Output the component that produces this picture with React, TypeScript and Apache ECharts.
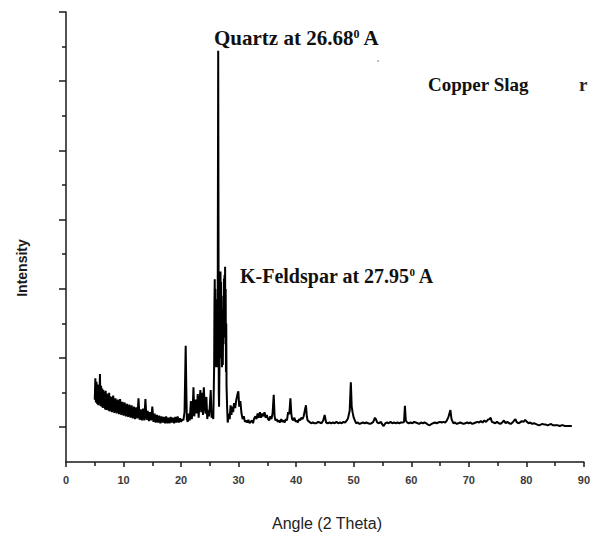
import React, { useEffect, useRef } from "react";
import * as echarts from "echarts";

// 2-theta angle (deg) and intensity (arbitrary units)
const lowAngleScan: [number, number][] = [
  [5.0, 90], [5.1, 121], [5.2, 86], [5.3, 116], [5.4, 84], [5.5, 112], [5.6, 82], [5.7, 109],
  [5.8, 84], [5.9, 127], [6.0, 81], [6.1, 110], [6.2, 80], [6.3, 106], [6.4, 78], [6.5, 104],
  [6.6, 79], [6.7, 101], [6.8, 76], [6.9, 103], [7.0, 75], [7.1, 99], [7.2, 76], [7.3, 97],
  [7.4, 74], [7.5, 100], [7.6, 73], [7.7, 95], [7.8, 74], [7.9, 94], [8.0, 72], [8.2, 96],
  [8.4, 71], [8.6, 92], [8.8, 70], [9.0, 90], [9.2, 69], [9.4, 91], [9.6, 68], [9.8, 87],
  [10.0, 67], [10.2, 86], [10.4, 66], [10.6, 84], [10.8, 65], [11.0, 83], [11.2, 64], [11.4, 82],
  [11.6, 63], [11.8, 80], [12.0, 62], [12.2, 79], [12.4, 63], [12.6, 92], [12.8, 61], [13.0, 76],
  [13.2, 60], [13.4, 77], [13.6, 60], [13.8, 91], [14.0, 61], [14.2, 74], [14.4, 59], [14.6, 72],
  [14.8, 60], [15.0, 80], [15.2, 58], [15.4, 70], [15.6, 57], [15.8, 68], [16.0, 57], [16.2, 67],
  [16.4, 56], [16.6, 66], [16.8, 57], [17.0, 65], [17.2, 56], [17.4, 66], [17.6, 56], [17.8, 64],
  [18.0, 56], [18.2, 65], [18.4, 57], [18.6, 64], [18.8, 56], [19.0, 65], [19.2, 57], [19.4, 66],
  [19.6, 57], [19.8, 63], [20.0, 58], [20.2, 62], [20.4, 60],
];

const peakCluster: [number, number][] = [
  [20.6, 72], [20.8, 168], [20.9, 110], [21.0, 62], [21.15, 58], [21.3, 70], [21.5, 60],
  [21.7, 88], [21.85, 62], [22.0, 72], [22.15, 108], [22.3, 66], [22.5, 90], [22.7, 70],
  [22.9, 98], [23.05, 64], [23.2, 86], [23.35, 104], [23.5, 72], [23.65, 100], [23.8, 68],
  [23.95, 108], [24.1, 80], [24.25, 70], [24.4, 94], [24.55, 62], [24.7, 75], [24.85, 66],
  [25.0, 82], [25.15, 104], [25.3, 64], [25.45, 70], [25.6, 62], [25.75, 140], [25.8, 230],
  [25.85, 264], [25.9, 170], [25.95, 250], [26.0, 150], [26.05, 235], [26.1, 137], [26.15, 190],
  [26.25, 137], [26.35, 160], [26.45, 594], [26.55, 100], [26.6, 80], [26.7, 160], [26.75, 250],
  [26.8, 180], [26.85, 275], [26.9, 200], [26.95, 260], [27.0, 150], [27.05, 220], [27.1, 137],
  [27.15, 190], [27.25, 140], [27.35, 240], [27.4, 180], [27.45, 265], [27.5, 200], [27.55, 270],
  [27.6, 190], [27.65, 282], [27.7, 170], [27.75, 250], [27.8, 130], [27.85, 200], [27.9, 110],
  [28.0, 80], [28.1, 57],
];

const midAngleScan: [number, number][] = [
  [28.3, 70], [28.45, 62], [28.6, 82], [28.75, 68], [28.9, 80], [29.05, 72], [29.2, 85],
  [29.4, 78], [29.6, 90], [29.8, 98], [29.95, 102], [30.1, 80], [30.3, 88], [30.5, 70],
  [30.7, 62], [30.9, 66], [31.1, 58], [31.3, 60], [31.5, 57], [31.7, 61], [31.9, 56],
  [32.1, 58], [32.3, 60], [32.5, 56], [32.7, 63], [32.9, 66], [33.1, 62], [33.3, 70],
  [33.5, 64], [33.7, 72], [33.9, 64], [34.1, 70], [34.3, 66], [34.5, 72], [34.7, 64],
  [34.9, 68], [35.1, 62], [35.3, 60], [35.5, 66], [35.7, 62], [35.9, 70], [36.1, 97],
  [36.25, 66], [36.4, 60], [36.6, 62], [36.8, 58], [37.0, 60], [37.2, 57], [37.4, 62],
  [37.6, 58], [37.8, 60], [38.0, 57], [38.2, 62], [38.4, 60], [38.6, 72], [38.8, 69],
  [39.0, 92], [39.15, 70], [39.3, 62], [39.5, 60], [39.7, 64], [39.9, 58], [40.1, 60],
  [40.3, 57], [40.5, 62], [40.7, 60], [40.9, 64], [41.1, 62], [41.3, 66], [41.5, 74],
  [41.7, 82], [41.85, 66], [42.0, 60], [42.3, 58], [42.6, 56], [42.9, 57], [43.2, 56],
  [43.5, 56], [43.8, 58], [44.1, 57], [44.4, 56], [44.7, 60], [44.95, 68], [45.2, 57],
  [45.5, 56], [45.8, 57], [46.1, 56], [46.4, 57], [46.7, 56], [47.0, 58], [47.3, 56],
  [47.6, 57], [47.9, 56], [48.2, 58], [48.5, 57], [48.8, 60], [49.0, 63], [49.3, 74],
  [49.5, 115], [49.65, 80], [49.8, 72], [50.0, 64], [50.2, 60], [50.4, 56], [50.7, 57],
];

const highAngleScan: [number, number][] = [
  [51.0, 55], [51.3, 56], [51.6, 57], [51.9, 56], [52.2, 57], [52.5, 56], [52.8, 55],
  [53.1, 56], [53.4, 58], [53.7, 64], [53.9, 61], [54.1, 57], [54.4, 56], [54.7, 58],
  [55.0, 54], [55.2, 52], [55.5, 56], [55.8, 57], [56.1, 56], [56.4, 58], [56.7, 56],
  [57.0, 57], [57.3, 56], [57.6, 57], [57.9, 56], [58.2, 57], [58.5, 57], [58.75, 58],
  [58.9, 81], [59.05, 60], [59.3, 57], [59.6, 56], [59.9, 57], [60.2, 56], [60.5, 58],
  [60.8, 57], [61.1, 56], [61.4, 55], [61.7, 57], [62.0, 56], [62.3, 57], [62.6, 56],
  [62.9, 54], [63.2, 53], [63.5, 55], [63.8, 56], [64.1, 57], [64.4, 56], [64.7, 57],
  [65.0, 58], [65.3, 57], [65.6, 58], [65.9, 57], [66.2, 60], [66.5, 66], [66.8, 75],
  [67.0, 62], [67.3, 56], [67.6, 57], [67.9, 55], [68.2, 56], [68.5, 57], [68.8, 56],
  [69.1, 55], [69.4, 56], [69.7, 57], [70.0, 56], [70.3, 57], [70.6, 55], [70.9, 56],
  [71.2, 57], [71.5, 58], [71.8, 57], [72.1, 59], [72.4, 57], [72.7, 60], [73.0, 58],
  [73.3, 61], [73.6, 62], [73.8, 64], [74.0, 58], [74.3, 57], [74.6, 56], [74.9, 58],
  [75.2, 56], [75.5, 55], [75.8, 57], [76.1, 60], [76.4, 56], [76.7, 58], [77.0, 56],
  [77.3, 55], [77.6, 57], [77.9, 60], [78.1, 62], [78.3, 58], [78.6, 56], [78.9, 57],
  [79.2, 59], [79.5, 58], [79.8, 61], [80.1, 58], [80.4, 56], [80.7, 57], [81.0, 55],
  [81.3, 56], [81.6, 55], [81.9, 54], [82.2, 53], [82.5, 54], [82.8, 55], [83.1, 54],
  [83.4, 54], [83.7, 53], [84.0, 54], [84.3, 55], [84.6, 53], [84.9, 53], [85.2, 53],
  [85.5, 53], [85.8, 52], [86.1, 53], [86.4, 53], [86.7, 52], [87.0, 52], [87.3, 52],
  [87.6, 52], [87.9, 52],
];

const angleMin = 0;
const angleMax = 90;
const angleStep = 10;
const intensityMax = 650;
const tickMax = 600;
const tickStep = 100;

const xTitle = "Angle (2 Theta)";
const yTitle = "Intensity";
const sampleName = "Copper Slag";

export default function App() {
  const ref = useRef<HTMLDivElement>(null);
  useEffect(() => {
    if (!ref.current) return;
    const chart = echarts.init(ref.current, null, { renderer: "svg" });
    const axisColor = "#1a1a1a";
    const serif = '"Liberation Serif", "Times New Roman", serif';
    const sans = '"Liberation Sans", Arial, sans-serif';
    const data = [...lowAngleScan, ...peakCluster, ...midAngleScan, ...highAngleScan];
    const richLabel = (size: number) => ({
      a: { fontSize: size, fontWeight: "bold", fontFamily: serif, fill: "#111" },
      s: { fontSize: Math.round(size * 0.55), fontWeight: "bold", fontFamily: serif, fill: "#111", verticalAlign: "top" },
    });
    chart.setOption({
      animation: false,
      backgroundColor: "#fff",
      grid: [
        { left: 66, top: 12, width: 523, height: 450 },
        { left: 66, top: 12, width: 523, height: 415 },
      ],
      xAxis: [
        {
          gridIndex: 0,
          type: "value",
          min: angleMin,
          max: angleMax,
          interval: angleStep,
          axisLine: { show: true, lineStyle: { color: axisColor, width: 1.5 } },
          axisTick: { show: true, length: 5, lineStyle: { color: axisColor, width: 1.5 } },
          minorTick: { show: true, splitNumber: 2, length: 4, lineStyle: { color: axisColor, width: 1.5 } },
          axisLabel: {
            margin: 12,
            fontSize: 11,
            color: "#3a3a3a",
            fontFamily: '"Liberation Sans Narrow", "Liberation Sans", Arial, sans-serif',
            fontWeight: "bold",
          },
          splitLine: { show: false },
        },
        { gridIndex: 1, type: "value", min: angleMin, max: angleMax, show: false },
      ],
      yAxis: [
        {
          gridIndex: 0,
          type: "value",
          min: 0,
          max: intensityMax,
          axisLine: { show: true, lineStyle: { color: axisColor, width: 1.5 } },
          axisTick: { show: false },
          axisLabel: { show: false },
          splitLine: { show: false },
        },
        {
          gridIndex: 1,
          type: "value",
          min: 0,
          max: tickMax,
          interval: tickStep,
          axisLine: { show: false },
          axisTick: { show: true, length: 7, lineStyle: { color: axisColor, width: 1.5 } },
          minorTick: { show: true, splitNumber: 2, length: 4, lineStyle: { color: axisColor, width: 1.5 } },
          axisLabel: { show: false },
          splitLine: { show: false },
        },
      ],
      series: [
        {
          type: "line",
          xAxisIndex: 0,
          yAxisIndex: 0,
          data,
          showSymbol: false,
          symbol: "none",
          lineStyle: { color: "#000", width: 2 },
        },
      ],
      graphic: [
        {
          type: "text",
          x: 22,
          y: 268,
          rotation: Math.PI / 2,
          style: { text: yTitle, font: `bold 14px ${sans}`, fill: "#1a1a1a", align: "center", verticalAlign: "middle" },
        },
        {
          type: "text",
          x: 327,
          y: 523,
          style: { text: xTitle, font: `16px ${sans}`, fill: "#222", align: "center", verticalAlign: "middle" },
        },
        {
          type: "text",
          x: 214,
          y: 38,
          style: {
            text: "{a|Quartz at 26.68}{s|0}{a| A}",
            align: "left",
            verticalAlign: "middle",
            rich: richLabel(21),
          },
        },
        {
          type: "text",
          x: 240,
          y: 276,
          style: {
            text: "{a|K-Feldspar at 27.95}{s|0}{a| A}",
            align: "left",
            verticalAlign: "middle",
            rich: richLabel(20),
          },
        },
        {
          type: "text",
          x: 428,
          y: 84,
          style: { text: sampleName, font: `bold 19px ${serif}`, fill: "#111", align: "left", verticalAlign: "middle" },
        },
        {
          type: "text",
          x: 579,
          y: 84,
          style: { text: "r", font: `bold 19px ${serif}`, fill: "#1c2636", align: "left", verticalAlign: "middle" },
        },
        {
          type: "circle",
          shape: { cx: 378, cy: 61, r: 0.8 },
          style: { fill: "#8a9ab0" },
        },
      ],
    });
    return () => chart.dispose();
  }, []);
  return (
    <div
      ref={ref}
      style={{ position: "fixed", left: 0, top: 0, width: 593, height: 540, background: "#fff" }}
    />
  );
}
